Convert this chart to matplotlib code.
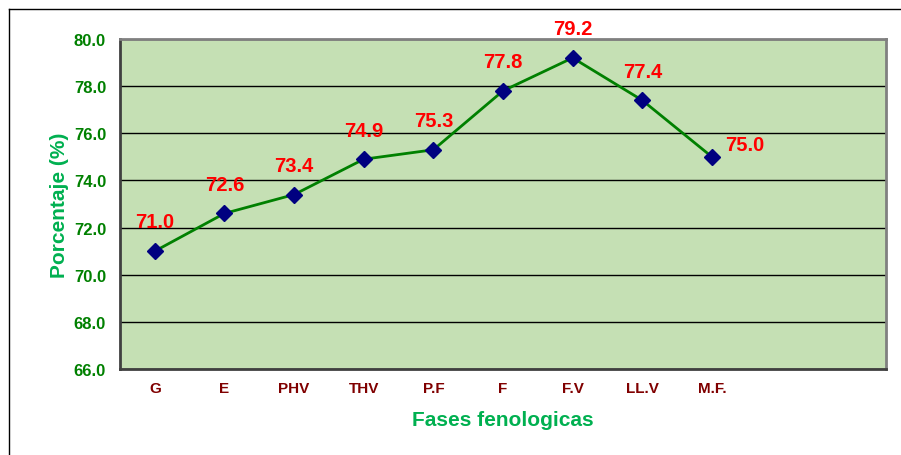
import matplotlib
matplotlib.use("Agg")
import matplotlib.pyplot as plt
from matplotlib.lines import Line2D

categories = ["G", "E", "PHV", "THV", "P.F", "F", "F.V", "LL.V", "M.F."]
values = [71.0, 72.6, 73.4, 74.9, 75.3, 77.8, 79.2, 77.4, 75.0]
yticks = [66.0, 68.0, 70.0, 72.0, 74.0, 76.0, 78.0, 80.0]

plt.rcParams['font.family'] = ['Liberation Sans', 'DejaVu Sans']

fig = plt.figure(figsize=(9.01, 4.56), dpi=100)
ax = fig.add_axes([120/901, 1-370/456, (886-120)/901, (370-40)/456])
ax.set_facecolor('#C5E0B4')

x = list(range(len(categories)))
ax.plot(x, values, color='#008000', lw=2, marker='D', markersize=8,
        markerfacecolor='#000080', markeredgecolor='#000080', zorder=3)

for i, v in enumerate(values):
    if i == len(values) - 1:
        off = (24, 9)
    else:
        off = (0, 21)
    ax.annotate(f"{v:.1f}", (i, v), xytext=off, textcoords='offset points',
                ha='center', va='center', color='#FF0000', fontsize=14.5, fontweight='bold')

ax.set_xlim(-0.5, 10.5)
ax.set_ylim(66, 80)
ax.set_yticks(yticks)
ax.set_yticklabels([f"{t:.1f}" for t in yticks], color='#008000', fontsize=12, fontweight='bold')
ax.set_xticks(x)
ax.set_xticklabels(categories, color='#800000', fontsize=11, fontweight='bold')
ax.tick_params(axis='x', length=0, pad=9)
ax.tick_params(axis='y', length=0, pad=10)
ax.grid(axis='y', color='black', lw=1)
ax.set_axisbelow(True)
for s in ax.spines.values():
    s.set_color('#808080')
    s.set_linewidth(2)
ax.spines['left'].set_color('#404040')
ax.spines['bottom'].set_color('#404040')

ax.set_xlabel("Fases fenologicas", color='#00B050', fontsize=15, fontweight='bold', labelpad=10.5)
ax.set_ylabel("Porcentaje (%)", color='#00B050', fontsize=15, fontweight='bold', labelpad=3.5)

# figure border
fig.add_artist(Line2D([9/901, 9/901], [0, 1-10/456], transform=fig.transFigure, color='black', lw=1))
fig.add_artist(Line2D([9/901, 1], [1-10/456, 1-10/456], transform=fig.transFigure, color='black', lw=1))

fig.savefig("out.png", dpi=100)
